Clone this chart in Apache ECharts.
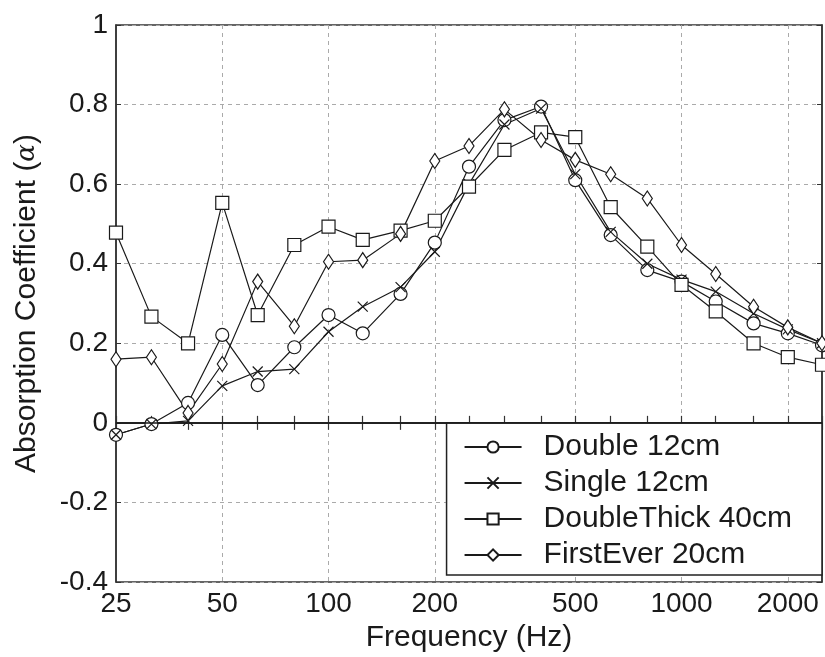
<!DOCTYPE html>
<html>
<head>
<meta charset="utf-8">
<script src="https://cdn.jsdelivr.net/npm/echarts@6/dist/echarts.min.js"></script>
<style>html,body{margin:0;padding:0;background:#fff;}#c{width:825px;height:657px;}</style>
</head>
<body>
<div id="c"></div>
<script>
const freqs = [25, 31.5, 40, 50, 63, 80, 100, 125, 160, 200, 250, 315, 400, 500, 630, 800, 1000, 1250, 1600, 2000, 2500];
const majorTicks = [25, 50, 100, 200, 500, 1000, 2000];
const gridTicks = [50, 100, 200, 500, 1000, 2000];
const double12 = [-0.03, -0.003, 0.05, 0.221, 0.095, 0.19, 0.271, 0.225, 0.324, 0.453, 0.644, 0.761, 0.795, 0.61, 0.472, 0.384, 0.355, 0.305, 0.25, 0.225, 0.195];
const single12 = [-0.03, -0.003, 0.005, 0.093, 0.129, 0.135, 0.229, 0.292, 0.341, 0.43, 0.6, 0.75, 0.79, 0.625, 0.48, 0.40, 0.36, 0.33, 0.275, 0.235, 0.2];
const doubleThick40 = [0.478, 0.267, 0.2, 0.553, 0.271, 0.447, 0.493, 0.46, 0.483, 0.508, 0.594, 0.686, 0.73, 0.718, 0.542, 0.443, 0.347, 0.28, 0.2, 0.165, 0.146];
const firstEver20 = [0.16, 0.165, 0.025, 0.148, 0.355, 0.243, 0.405, 0.409, 0.475, 0.658, 0.696, 0.788, 0.711, 0.661, 0.625, 0.564, 0.447, 0.374, 0.292, 0.24, 0.2];
const seriesNames = ['Double 12cm', 'Single 12cm', 'DoubleThick 40cm', 'FirstEver 20cm'];

const FONT = 'Liberation Sans, Arial, sans-serif';
const INK = '#1a1a1a';
const xMin = 25, xMax = 2500;

function pairs(vals) { return freqs.map((f, i) => [f, vals[i]]); }

const chart = echarts.init(document.getElementById('c'), null, {renderer: 'canvas'});

function mkSeries(name, vals, symbol, size) {
  return {
    name: name, type: 'line', data: pairs(vals),
    xAxisIndex: 0, yAxisIndex: 0,
    symbol: symbol, symbolSize: size, showAllSymbol: true,
    lineStyle: {color: INK, width: 1.2},
    itemStyle: {color: '#fff', borderColor: INK, borderWidth: 1.2},
    emphasis: {disabled: true},
    animation: false
  };
}

const series = [
  mkSeries(seriesNames[0], double12, 'circle', 13),
  mkSeries(seriesNames[1], single12, 'path://M0,0L10,10M10,0L0,10', 10),
  mkSeries(seriesNames[2], doubleThick40, 'rect', 13),
  mkSeries(seriesNames[3], firstEver20, 'diamond', [10, 15])
];
series[0].markLine = {
  silent: true, symbol: ['none', 'none'], label: {show: false},
  lineStyle: {color: INK, width: 1.5, type: 'solid'},
  data: [{yAxis: 0}], animation: false
};

const option = {
  animation: false,
  backgroundColor: '#fff',
  grid: {left: 116, right: 3, top: 25, bottom: 75, show: true, borderColor: '#333', borderWidth: 1.5, outerBoundsMode: 'none'},
  legend: {
    orient: 'vertical', right: 3, top: 423,
    data: seriesNames,
    itemWidth: 57, itemHeight: 14, itemGap: 6,
    padding: [9, 30, 5, 17],
    backgroundColor: '#fff', borderColor: '#222', borderWidth: 1.5,
    textStyle: {fontFamily: FONT, fontSize: 30, color: INK, lineHeight: 30, padding: [0, 0, 0, 17]},
    selectedMode: false
  },
  xAxis: [
    {
      type: 'log', min: xMin, max: xMax, position: 'bottom',
      name: 'Frequency (Hz)', nameLocation: 'middle', nameGap: 33,
      nameTextStyle: {fontFamily: FONT, fontSize: 30, color: INK},
      axisLine: {show: true, lineStyle: {color: '#333', width: 1.5}},
      axisTick: {show: true, inside: true, length: 7, customValues: freqs, lineStyle: {color: '#333', width: 1.2}},
      axisLabel: {show: true, customValues: majorTicks, fontFamily: FONT, fontSize: 28, color: INK, margin: 8,
        formatter: function (v) { return String(v); }},
      splitLine: {show: false}
    },
    {
      type: 'log', min: xMin, max: xMax, position: 'top',
      axisLine: {show: true, lineStyle: {color: '#333', width: 1.5}},
      axisTick: {show: true, inside: true, length: 7, customValues: freqs, lineStyle: {color: '#333', width: 1.2}},
      axisLabel: {show: false},
      splitLine: {show: false}
    },
    {
      type: 'log', min: xMin, max: xMax, position: 'bottom',
      axisLine: {show: false},
      axisTick: {show: false, customValues: gridTicks},
      axisLabel: {show: false, customValues: gridTicks},
      splitLine: {show: true, lineStyle: {color: '#aaa', width: 1, type: [4, 4]}}
    }
  ],
  yAxis: [
    {
      type: 'value', min: -0.4, max: 1, interval: 0.2, position: 'left',
      name: 'Absorption Coefficient ({a|α})', nameLocation: 'middle', nameGap: 74,
      nameTextStyle: {fontFamily: FONT, fontSize: 30, color: INK,
        rich: {a: {fontFamily: 'DejaVu Serif', fontStyle: 'italic', fontSize: 26, color: INK}}},
      axisLine: {show: true, lineStyle: {color: '#333', width: 1.5}},
      axisTick: {show: true, inside: true, length: 5, lineStyle: {color: '#333'}},
      axisLabel: {fontFamily: FONT, fontSize: 28, color: INK, margin: 8},
      splitLine: {show: true, lineStyle: {color: '#aaa', width: 1, type: [4, 4]}}
    },
    {
      type: 'value', min: -0.4, max: 1, interval: 0.2, position: 'right',
      axisLine: {show: true, lineStyle: {color: '#333', width: 1.5}},
      axisTick: {show: true, inside: true, length: 5, lineStyle: {color: '#333'}},
      axisLabel: {show: false},
      splitLine: {show: false}
    }
  ],
  series: series
};
chart.setOption(option);
</script>
</body>
</html>
